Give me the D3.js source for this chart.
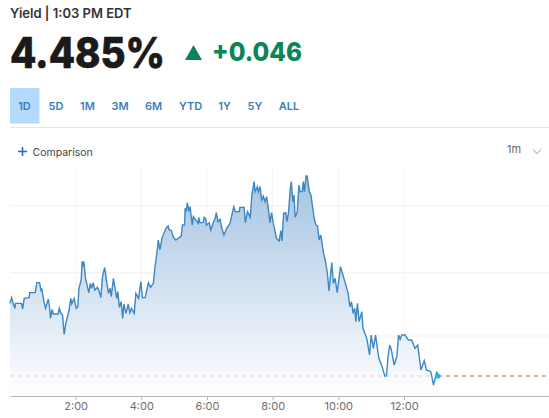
<!DOCTYPE html>
<html>
<head>
<meta charset="utf-8">
<script src="https://cdn.jsdelivr.net/npm/d3@7"></script>
<style>
  html, body { margin: 0; padding: 0; background: #fff; overflow: hidden; }
  text { font-family: "Inter", "Lato", sans-serif; }
</style>
</head>
<body>
<div id="chart"></div>
<script>
// minutes after midnight
let minutes = [0,3,6,9,10,21,23,26,35,36,46,49,54,57,58,62,65,70,72,74,77,79,88,90,93,96,99,102,108,111,113,117,121,124,126,130,132,133,135,138,144,147,149,152,155,160,163,166,169,173,177,180,183,185,189,195,197,200,203,206,208,212,216,219,222,227,230,235,239,242,247,253,257,262,265,268,271,274,278,285,289,291,295,298,303,313,315,319,320,322,324,327,329,333,335,344,345,347,353,355,358,359,364,367,372,375,377,380,384,387,391,396,402,409,412,419,420,428,430,434,439,442,446,448,452,454,457,460,463,466,469,473,475,478,481,487,492,495,497,500,504,506,509,512,514,517,519,521,525,528,530,534,536,538,541,543,547,550,552,556,559,562,565,568,573,576,580,583,588,591,594,598,604,612,618,621,624,627,630,632,635,638,643,645,652,657,660,664,668,674,680,685,688,691,694,697,702,707,710,713,716,722,728,734,740,745,751,757,761,769,774,780,782];
let yields = [4.5068,4.5085,4.5066,4.5053,4.5068,4.5068,4.5051,4.5083,4.5085,4.51,4.51,4.513,4.513,4.5103,4.5113,4.5073,4.5053,4.5081,4.506,4.5023,4.505,4.5036,4.5036,4.5053,4.5038,4.5033,4.4975,4.5008,4.5048,4.5083,4.5066,4.5083,4.5053,4.5058,4.5113,4.5138,4.5195,4.5178,4.5193,4.5143,4.51,4.5128,4.5113,4.513,4.5108,4.5116,4.5103,4.5085,4.5148,4.5175,4.5128,4.5098,4.5113,4.5088,4.5143,4.5083,4.5103,4.5056,4.5073,4.5023,4.5066,4.5038,4.5066,4.504,4.5053,4.5038,4.5098,4.5083,4.5133,4.5085,4.5085,4.513,4.5116,4.5128,4.5178,4.5213,4.5258,4.5228,4.5266,4.5293,4.53,4.5288,4.5286,4.5268,4.5258,4.527,4.5303,4.5303,4.5353,4.5343,4.537,4.5343,4.5358,4.5303,4.5328,4.5308,4.5326,4.531,4.531,4.5326,4.532,4.5303,4.531,4.5288,4.5313,4.5323,4.534,4.5313,4.532,4.5293,4.5273,4.5293,4.5308,4.5358,4.5343,4.5343,4.5356,4.5356,4.531,4.5343,4.5326,4.5393,4.5433,4.5403,4.5418,4.5403,4.5418,4.5378,4.539,4.5373,4.5388,4.534,4.531,4.534,4.531,4.5263,4.5255,4.5286,4.5255,4.5338,4.534,4.5313,4.534,4.5408,4.5433,4.5373,4.5393,4.5326,4.5343,4.5423,4.5403,4.5403,4.5433,4.5403,4.545,4.545,4.5403,4.5393,4.5368,4.5323,4.5303,4.53,4.5258,4.5273,4.5218,4.5198,4.5158,4.5105,4.519,4.5128,4.5143,4.51,4.5178,4.5133,4.5098,4.5058,4.5073,4.5038,4.5053,4.5013,4.5068,4.5013,4.5043,4.4993,4.4963,4.4913,4.4973,4.4933,4.4973,4.4903,4.4878,4.485,4.485,4.491,4.4943,4.4928,4.4883,4.4908,4.4973,4.496,4.4973,4.4973,4.4958,4.4958,4.4933,4.4943,4.4868,4.4896,4.4868,4.4863,4.4823,4.4863,4.485];

let gridValues = [4.497, 4.516, 4.536];
let tickMinutes = [120, 240, 360, 480, 600, 720];
let tickLabels = ["2:00", "4:00", "6:00", "8:00", "10:00", "12:00"];
let lastYield = 4.485;
let lastMinute = 782;

let rangeTabs = ["1D", "5D", "1M", "3M", "6M", "YTD", "1Y", "5Y", "ALL"];
let tabCenters = [24.5, 56, 87.5, 120, 153.5, 190.5, 224.5, 255, 289];

let svgWidth = 549;
let svgHeight = 418;

let svg = d3.select("#chart")
    .append("svg")
    .attr("width", svgWidth)
    .attr("height", svgHeight)
    .style("display", "block");

// Header
svg.append("text").attr("x", 10).attr("y", 18)
    .attr("font-size", 13).attr("font-weight", 600).attr("fill", "#333")
    .text("Yield | 1:03 PM EDT");

svg.append("text").attr("x", 10).attr("y", 68)
    .attr("font-size", 42).attr("font-weight", 800).attr("fill", "#1a1a1a")
    .attr("stroke", "#1a1a1a").attr("stroke-width", 0.7)
    .attr("textLength", 155).attr("lengthAdjust", "spacingAndGlyphs")
    .text("4.485%");

svg.append("path").attr("d", "M185,60L193.5,45L202,60Z").attr("fill", "#0b8457");

svg.append("text").attr("x", 212).attr("y", 61)
    .attr("font-size", 26).attr("font-weight", 800).attr("fill", "#0b8457")
    .attr("textLength", 90).attr("lengthAdjust", "spacingAndGlyphs")
    .text("+0.046");

// Range tabs
svg.append("rect").attr("x", 10).attr("y", 88).attr("width", 29.5).attr("height", 35.5)
    .attr("fill", "#b5daff");

svg.selectAll(".tab")
    .data(rangeTabs)
    .enter()
    .append("text")
    .attr("class", "tab")
    .attr("x", (d, i) => tabCenters[i])
    .attr("y", 110)
    .attr("text-anchor", "middle")
    .attr("font-size", 11)
    .attr("font-weight", 600)
    .attr("fill", "#3a7fb8")
    .text(d => d);

svg.append("line").attr("x1", 10).attr("x2", 549).attr("y1", 127.5).attr("y2", 127.5)
    .attr("stroke", "#e3e3e3");

// Comparison row
svg.append("path").attr("d", "M18,151.5H27M22.5,147V156")
    .attr("stroke", "#2468d8").attr("stroke-width", 1.6).attr("fill", "none");
svg.append("text").attr("x", 32.5).attr("y", 156)
    .attr("font-size", 10.5).attr("fill", "#444").text("Comparison");
svg.append("text").attr("x", 507).attr("y", 153)
    .attr("font-size", 11).attr("fill", "#666").text("1m");
svg.append("path").attr("d", "M533,149.5L537,153.5L541,149.5")
    .attr("stroke", "#999").attr("fill", "none");

// Scales
let xScale = d3.scaleLinear().domain([0, 985]).range([10, 549]);
let yScale = d3.scaleLinear().domain([4.479, 4.545]).range([396, 176]);

let series = minutes.map((m, i) => ({ m: m, v: yields[i] }));

// Area gradient
let grad = svg.append("defs").append("linearGradient")
    .attr("id", "areaFill")
    .attr("x1", 0).attr("x2", 0).attr("y1", 0).attr("y2", 1);
grad.append("stop").attr("offset", "0%").attr("stop-color", "#a5c3e2");
grad.append("stop").attr("offset", "100%").attr("stop-color", "#ffffff");

// Grid
svg.selectAll(".hgrid")
    .data(gridValues)
    .enter()
    .append("line")
    .attr("class", "hgrid")
    .attr("x1", 10).attr("x2", 549)
    .attr("y1", d => yScale(d)).attr("y2", d => yScale(d))
    .attr("stroke", "#f3f3f3").attr("stroke-width", 1.2);

svg.selectAll(".vgrid")
    .data(tickMinutes)
    .enter()
    .append("line")
    .attr("class", "vgrid")
    .attr("x1", d => xScale(d)).attr("x2", d => xScale(d))
    .attr("y1", 167).attr("y2", 396)
    .attr("stroke", "#f3f3f3");

// Area + line
let area = d3.area()
    .x(d => xScale(d.m))
    .y0(yScale(4.479))
    .y1(d => yScale(d.v));

let line = d3.line()
    .x(d => xScale(d.m))
    .y(d => yScale(d.v));

svg.append("path").datum(series).attr("d", area)
    .attr("fill", "url(#areaFill)");

svg.append("path").datum(series).attr("d", line)
    .attr("fill", "none").attr("stroke", "#3d87c4").attr("stroke-width", 1.4);

// Reference dashes
svg.append("line")
    .attr("x1", 10).attr("x2", xScale(lastMinute))
    .attr("y1", yScale(lastYield)).attr("y2", yScale(lastYield))
    .attr("stroke", "#eccabf").attr("stroke-opacity", 0.8).attr("stroke-dasharray", "4,4");

svg.append("line")
    .attr("x1", xScale(lastMinute)).attr("x2", 549)
    .attr("y1", yScale(lastYield)).attr("y2", yScale(lastYield))
    .attr("stroke", "#e08e75").attr("stroke-width", 1.3).attr("stroke-dasharray", "4,4");

// Last price marker
svg.append("circle")
    .attr("cx", xScale(lastMinute))
    .attr("cy", yScale(lastYield))
    .attr("r", 2.6)
    .attr("fill", "#22b5f0");

// X axis
let xAxis = d3.axisBottom(xScale)
    .tickValues(tickMinutes)
    .tickFormat((d, i) => tickLabels[i])
    .tickSize(4)
    .tickSizeOuter(0);

let axisG = svg.append("g")
    .attr("transform", "translate(0,396)")
    .call(xAxis);

axisG.select(".domain").attr("stroke", "#b5b5b5").attr("stroke-width", 1);
axisG.selectAll(".tick line").attr("stroke", "#b5b5b5");
axisG.selectAll(".tick text")
    .attr("fill", "#6e6e6e")
    .attr("font-size", 11)
    .attr("font-family", "Inter, Lato, sans-serif")
    .attr("y", 6);
</script>
</body>
</html>
